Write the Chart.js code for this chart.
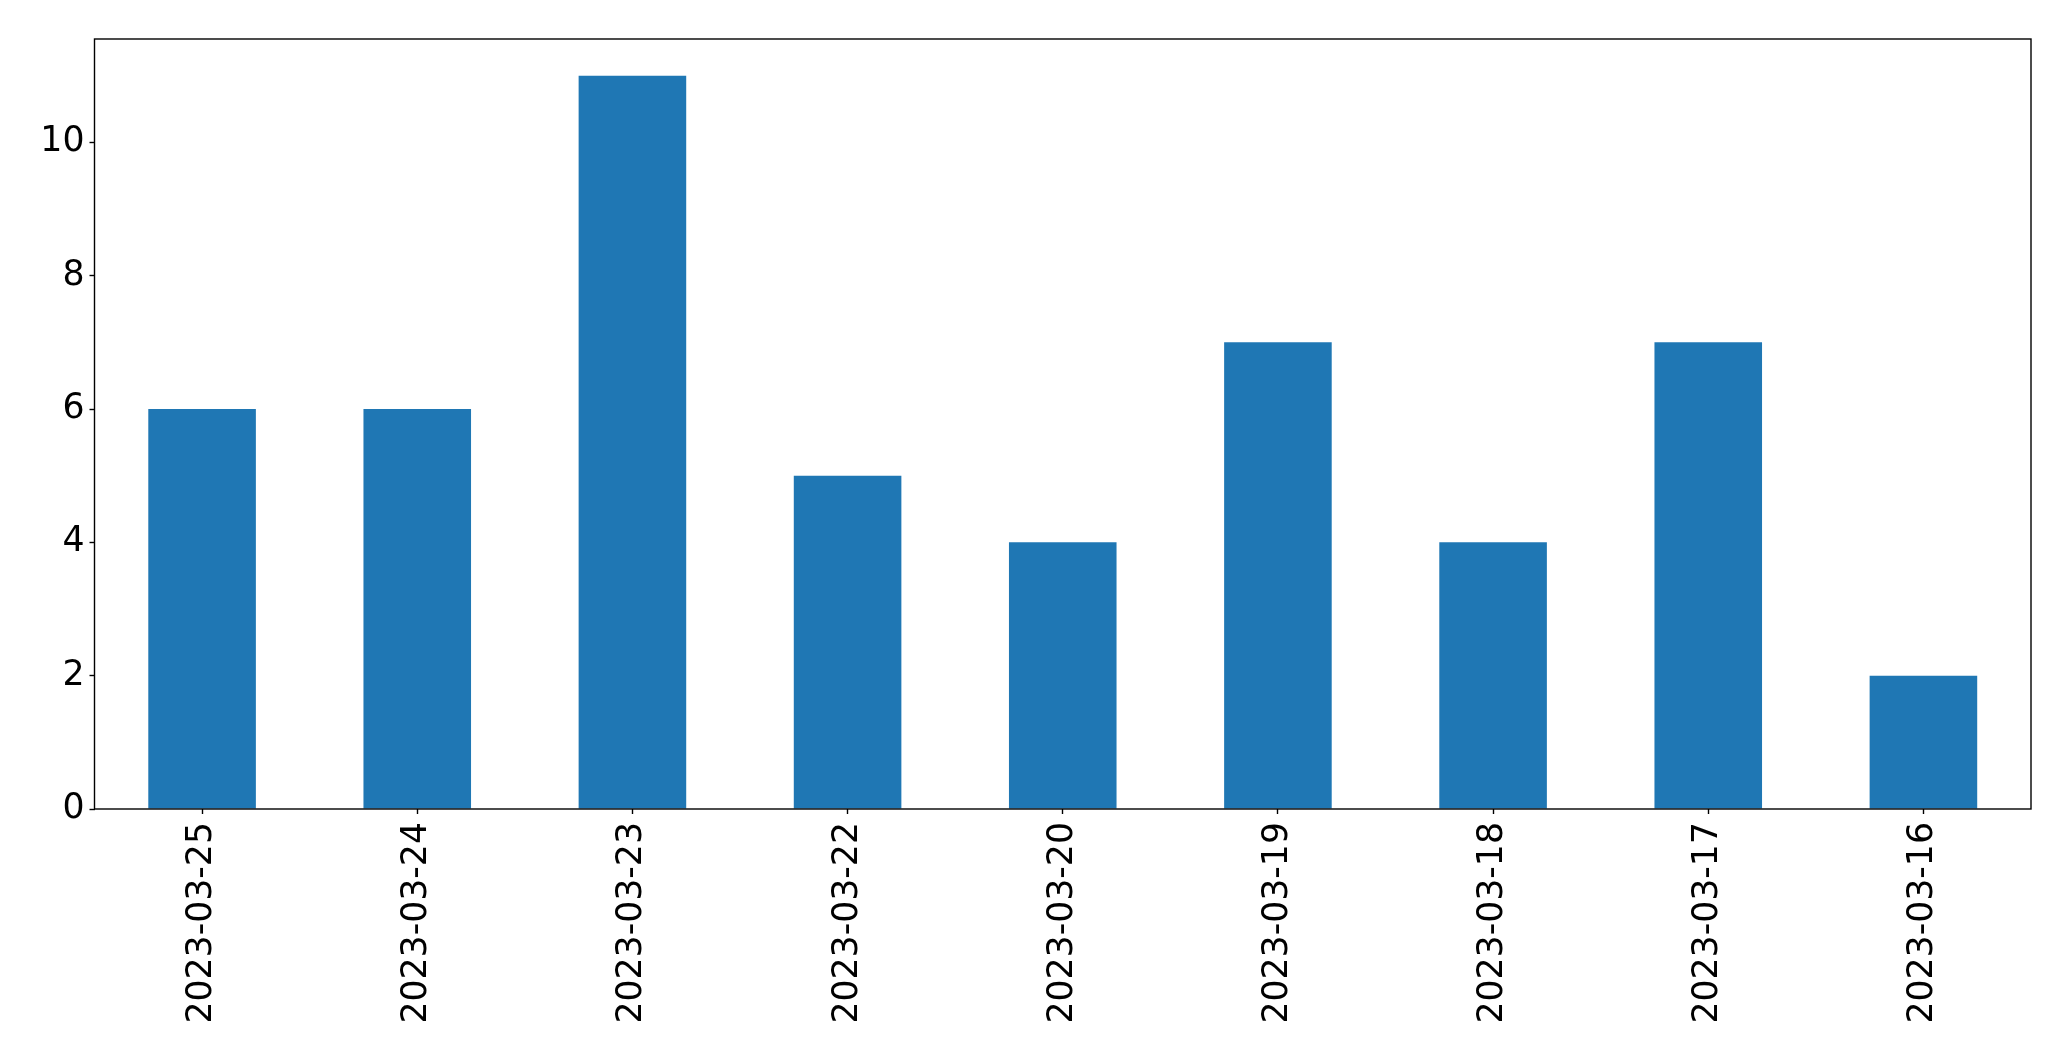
<!DOCTYPE html>
<html>
<head>
<meta charset="utf-8">
<title>Daily counts</title>
<script src="https://cdn.jsdelivr.net/npm/chart.js@4"></script>
<style>
  html, body { margin: 0; padding: 0; background: #fff; }
  #wrap { width: 2071px; height: 1061px; position: relative; }
</style>
</head>
<body>
<div id="wrap"><canvas id="barChart"></canvas></div>
<script>
// ===========================
// DATA
// ===========================
const dates = ["2023-03-25", "2023-03-24", "2023-03-23", "2023-03-22", "2023-03-20",
               "2023-03-19", "2023-03-18", "2023-03-17", "2023-03-16"];
const counts = [6, 6, 11, 5, 4, 7, 4, 7, 2];
const yTicks = [0, 2, 4, 6, 8, 10];

// ===========================
// PLUGINS
// ===========================

/**
 * Draw the black frame round the plot area (matplotlib style)
 */
const frameBox = {
  id: 'frameBox',
  afterDraw(chart) {
    const { ctx, chartArea: a } = chart;
    ctx.save();
    ctx.strokeStyle = '#000';
    ctx.lineWidth = 1.4;
    ctx.strokeRect(a.left, a.top, a.right - a.left, a.bottom - a.top);
    ctx.restore();
  }
};

// ===========================
// CHART
// ===========================
Chart.defaults.font.family = "'DejaVu Sans', sans-serif";
Chart.defaults.color = '#000';

new Chart(document.getElementById('barChart'), {
  type: 'bar',
  data: {
    labels: dates,
    datasets: [{
      data: counts,
      backgroundColor: '#1f77b4',
      borderWidth: 0,
      categoryPercentage: 1.0,
      barPercentage: 0.5
    }]
  },
  options: {
    responsive: true,
    maintainAspectRatio: false,
    animation: false,
    layout: { padding: { top: 39, right: 40, left: 0, bottom: 0 } },
    plugins: {
      legend: { display: false },
      tooltip: { enabled: false }
    },
    scales: {
      x: {
        offset: true,
        grid: { offset: false, drawOnChartArea: false, tickLength: 5, color: '#000', tickWidth: 1.4 },
        border: { display: false },
        ticks: { font: { size: 34.7 }, minRotation: 90, maxRotation: 90, padding: 8, autoSkip: false },
        afterFit(scale) { scale.height = 252; }
      },
      y: {
        min: 0,
        max: 11.55,
        afterBuildTicks(scale) { scale.ticks = yTicks.map(v => ({ value: v })); },
        grid: { drawOnChartArea: false, tickLength: 5, color: '#000', tickWidth: 1.4 },
        border: { display: false },
        ticks: { font: { size: 34.7 }, padding: 5 },
        afterFit(scale) { scale.width = 94.5; }
      }
    }
  },
  plugins: [frameBox]
});
</script>
</body>
</html>
